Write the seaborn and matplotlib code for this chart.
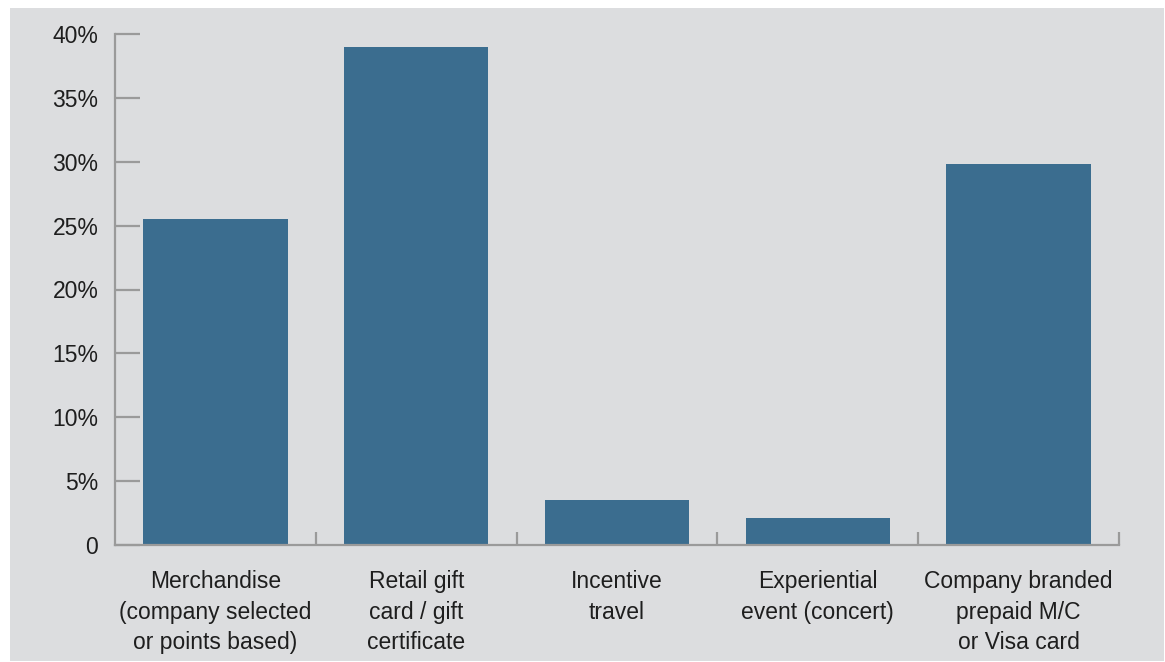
import matplotlib
matplotlib.use("Agg")
import matplotlib.pyplot as plt
from matplotlib.patches import Rectangle
from matplotlib.ticker import FixedLocator
import seaborn as sns
import pandas as pd

categories = [
    "Merchandise\n(company selected\nor points based)",
    "Retail gift\ncard / gift\ncertificate",
    "Incentive\ntravel",
    "Experiential\nevent (concert)",
    "Company branded\nprepaid M/C\nor Visa card",
]
shares = [25.5, 39.0, 3.5, 2.1, 29.8]
y_ticks = [0, 5, 10, 15, 20, 25, 30, 35, 40]
y_tick_labels = ["0", "5%", "10%", "15%", "20%", "25%", "30%", "35%", "40%"]

BG = "#dcdddf"
BAR = "#3b6d8f"
AXIS = "#9a9a9a"
TEXT = "#1e1e1e"

sns.set_style("white")
plt.rcParams["font.family"] = ["Liberation Sans", "DejaVu Sans"]

W, H = 1165, 662
fig = plt.figure(figsize=(W / 100, H / 100), dpi=100, facecolor="white")
fig.patches.append(Rectangle((10 / W, 1 / H), 1154 / W, 653 / H,
                             transform=fig.transFigure, facecolor=BG,
                             edgecolor="none", zorder=-10))

ax = fig.add_axes([115 / W, 1 - 545 / H, 1004 / W, 511 / H])
ax.set_facecolor("none")

df = pd.DataFrame({"category": categories, "share": shares})
sns.barplot(data=df, x="category", y="share", color=BAR, saturation=1,
            width=0.72, linewidth=0, edgecolor="none", ax=ax, zorder=2)

ax.set_xlim(-0.5, len(categories) - 0.5)
ax.set_ylim(0, 40)
ax.set_xlabel("")
ax.set_ylabel("")

for side in ("top", "right"):
    ax.spines[side].set_visible(False)
for side in ("left", "bottom"):
    ax.spines[side].set_color(AXIS)
    ax.spines[side].set_linewidth(1.6)
    ax.spines[side].set_zorder(3)

ax.set_yticks(y_ticks)
ax.set_yticklabels(y_tick_labels)
ax.tick_params(axis="y", direction="in", length=18, width=1.6, color=AXIS,
               pad=12, labelsize=16.5, labelcolor=TEXT, left=True)

ax.set_xticks(range(len(categories)))
ax.set_xticklabels(categories, linespacing=1.42)
ax.tick_params(axis="x", which="major", length=0, pad=18, labelsize=16.5,
               labelcolor=TEXT)
ax.xaxis.set_minor_locator(FixedLocator([i + 0.5 for i in range(len(categories))]))
ax.tick_params(axis="x", which="minor", direction="in", length=9.5, width=1.6,
               color=AXIS, bottom=True)

fig.savefig("out.png", dpi=100, facecolor="white")
